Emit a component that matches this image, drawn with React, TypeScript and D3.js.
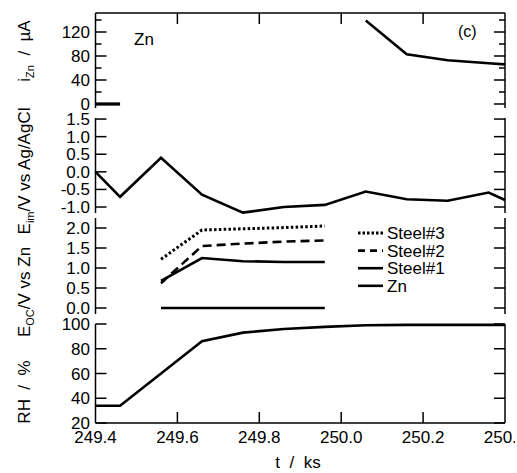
import React from 'react';
import * as d3 from 'd3';

// ---- data ----
const tIzn1 = [249.4, 249.46];
const izn1 = [0, 0];
const tIzn2 = [250.06, 250.16, 250.26, 250.36, 250.4];
const izn2 = [139, 83, 73, 68, 66];

const tEim = [249.4, 249.46, 249.56, 249.66, 249.76, 249.86, 249.96, 250.06, 250.16, 250.26, 250.36, 250.4];
const eim = [0.0, -0.71, 0.4, -0.65, -1.16, -1.0, -0.94, -0.56, -0.78, -0.82, -0.59, -0.8];

const tEoc = [249.56, 249.66, 249.76, 249.86, 249.96];
const steel3 = [1.22, 1.95, 1.98, 2.01, 2.05];
const steel2 = [0.62, 1.55, 1.61, 1.66, 1.69];
const steel1 = [0.68, 1.25, 1.17, 1.15, 1.15];
const znEoc = [0, 0, 0, 0, 0];

const tRh = [249.4, 249.46, 249.56, 249.66, 249.76, 249.86, 249.96, 250.06, 250.16, 250.26, 250.36, 250.4];
const rh = [34, 34, 60, 86, 93, 96, 97.7, 99, 99.3, 99.3, 99.3, 99.3];

const xTicks = [249.4, 249.6, 249.8, 250.0, 250.2, 250.4];
const iznTicks = [0, 40, 80, 120];
const iznMinor = [20, 60, 100, 140];
const eimTicks = [1.5, 1.0, 0.5, 0.0, -0.5, -1.0];
const eocTicks = [2.0, 1.5, 1.0, 0.5, 0.0];
const rhTicks = [100, 80, 60, 40, 20];

const legendItems = [
  { name: 'Steel#3', dash: '2.5,2' },
  { name: 'Steel#2', dash: '7,5' },
  { name: 'Steel#1', dash: '' },
  { name: 'Zn', dash: '' },
];

const FONT = '"Liberation Sans", Arial, Helvetica, sans-serif';
const FS = 17;

const x = d3.scaleLinear().domain([249.4, 250.4]).range([95.5, 505]);
const yI = d3.scaleLinear().domain([-6.67, 151.67]).range([108, 13]);
const yE = d3.scaleLinear().domain([-1.17, 1.53]).range([213, 118]);
const yO = d3.scaleLinear().domain([-0.15, 2.25]).range([314, 218]);
const yR = d3.scaleLinear().domain([20, 100]).range([423, 324]);

function mkLine(ys: d3.ScaleLinear<number, number>, ts: number[], vs: number[]) {
  const pts = ts.map((t, i) => [t, vs[i]] as [number, number]);
  return d3.line<[number, number]>().x(d => x(d[0])).y(d => ys(d[1]))(pts) || '';
}

type PanelProps = {
  y: d3.ScaleLinear<number, number>;
  ticks: number[];
  minor?: number[];
  fmt: (v: number) => string;
};

function Panel({ y, ticks, minor = [], fmt }: PanelProps) {
  const [y0, y1] = y.range();
  const L = x.range()[0];
  const R = x.range()[1];
  const maj = 11;
  const mn = 6;
  return (
    <g>
      <line x1={L} x2={L} y1={y0} y2={y1} stroke="#000" strokeWidth={1.5} />
      <line x1={R} x2={R} y1={y0} y2={y1} stroke="#000" strokeWidth={1.5} />
      {ticks.map(v => (
        <g key={'t' + v}>
          <line x1={L} x2={L + maj} y1={y(v)} y2={y(v)} stroke="#000" strokeWidth={1.5} />
          <line x1={R} x2={R - maj} y1={y(v)} y2={y(v)} stroke="#000" strokeWidth={1.5} />
          <text x={90} y={y(v) + 6} textAnchor="end" fontSize={FS}>{fmt(v)}</text>
        </g>
      ))}
      {minor.map(v => (
        <g key={'m' + v}>
          <line x1={L} x2={L + mn} y1={y(v)} y2={y(v)} stroke="#000" strokeWidth={1.5} />
          <line x1={R} x2={R - mn} y1={y(v)} y2={y(v)} stroke="#000" strokeWidth={1.5} />
        </g>
      ))}
    </g>
  );
}

export default function App() {
  const L = x.range()[0];
  const R = x.range()[1];
  const top = yI.range()[1];
  const bot = yR.range()[0];
  const lw = 2.6;
  return (
    <svg width={515} height={473} style={{ position: 'absolute', left: 0, top: 0, background: '#fff' }}
      fontFamily={FONT}>
      <rect x={0} y={0} width={515} height={473} fill="#fff" />
      {/* top & bottom frame */}
      <line x1={L} x2={R} y1={top} y2={top} stroke="#000" strokeWidth={1.5} />
      <line x1={L} x2={R} y1={bot} y2={bot} stroke="#000" strokeWidth={1.5} />
      {xTicks.slice(1, -1).map(t => (
        <g key={'x' + t}>
          <line x1={x(t)} x2={x(t)} y1={top} y2={top + 11} stroke="#000" strokeWidth={1.5} />
          <line x1={x(t)} x2={x(t)} y1={bot} y2={bot - 11} stroke="#000" strokeWidth={1.5} />
        </g>
      ))}
      {xTicks.map(t => (
        <text key={'xl' + t} x={x(t)} y={443} textAnchor="middle" fontSize={FS}>{t.toFixed(1)}</text>
      ))}
      <text x={298} y={468} textAnchor="middle" fontSize={FS} style={{ whiteSpace: 'pre' }}>{'t  /  ks'}</text>

      <Panel y={yI} ticks={iznTicks} minor={iznMinor} fmt={v => String(v)} />
      <Panel y={yE} ticks={eimTicks} fmt={v => v.toFixed(1)} />
      <Panel y={yO} ticks={eocTicks} fmt={v => v.toFixed(1)} />
      <Panel y={yR} ticks={rhTicks} fmt={v => String(v)} />

      {/* data */}
      <g fill="none" stroke="#000" strokeLinejoin="miter">
        <path d={mkLine(yI, tIzn1, izn1)} strokeWidth={3.2} />
        <path d={mkLine(yI, tIzn2, izn2)} strokeWidth={lw} />
        <path d={mkLine(yE, tEim, eim)} strokeWidth={lw} />
        <path d={mkLine(yO, tEoc, steel3)} strokeWidth={3} strokeDasharray="2.5,2.3" />
        <path d={mkLine(yO, tEoc, steel2)} strokeWidth={lw} strokeDasharray="9,5" />
        <path d={mkLine(yO, tEoc, steel1)} strokeWidth={lw} />
        <path d={mkLine(yO, tEoc, znEoc)} strokeWidth={lw} />
        <path d={mkLine(yR, tRh, rh)} strokeWidth={lw} />
      </g>

      {/* annotations */}
      <text x={134} y={45} fontSize={FS}>Zn</text>
      <text x={458} y={37} fontSize={16}>(c)</text>

      {/* legend */}
      {legendItems.map((it, i) => {
        const ly = 233 + i * 17.6;
        return (
          <g key={it.name}>
            <line x1={358} x2={383} y1={ly} y2={ly} stroke="#000" strokeWidth={it.dash === '2.5,2' ? 3 : lw}
              strokeDasharray={it.dash || undefined} />
            <text x={387} y={ly + 6} fontSize={FS}>{it.name}</text>
          </g>
        );
      })}

      {/* y labels */}
      <text transform="translate(30,51) rotate(-90)" textAnchor="middle" fontSize={FS} style={{ whiteSpace: 'pre' }}>
        i<tspan fontSize={11} dy={4}>Zn</tspan><tspan dy={-4}>{'  /  µA'}</tspan>
      </text>
      <text transform="translate(30,171) rotate(-90)" textAnchor="middle" fontSize={FS} style={{ whiteSpace: 'pre' }}>
        E<tspan fontSize={11} dy={4}>im</tspan><tspan dy={-4}>{'/V vs Ag/AgCl'}</tspan>
      </text>
      <text transform="translate(30,292) rotate(-90)" textAnchor="middle" fontSize={FS} style={{ whiteSpace: 'pre' }}>
        E<tspan fontSize={11} dy={4}>OC</tspan><tspan dy={-4}>{'/V vs Zn'}</tspan>
      </text>
      <text transform="translate(30,392) rotate(-90)" textAnchor="middle" fontSize={FS} style={{ whiteSpace: 'pre' }}>
        {'RH  /  %'}
      </text>
    </svg>
  );
}
